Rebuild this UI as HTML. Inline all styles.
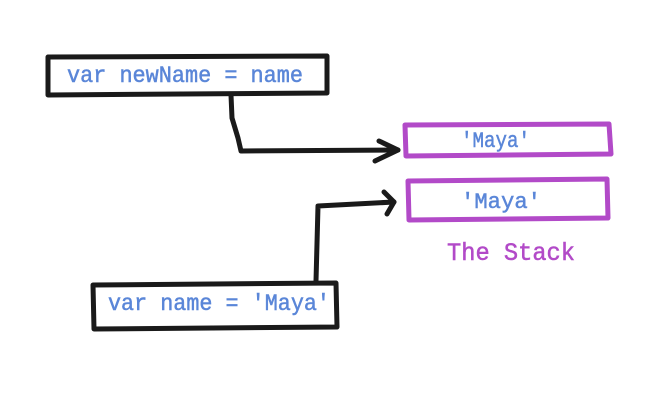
<!DOCTYPE html>
<html><head><style>
html,body{margin:0;padding:0;background:#fff;}
svg{display:block;}
.c{font-family:"Liberation Mono","DejaVu Sans Mono",monospace;stroke-width:0.5;}
</style></head><body>
<svg width="656" height="403" viewBox="0 0 656 403">
<g fill="none" stroke="#1a1a1a" stroke-width="5" stroke-linejoin="round" stroke-linecap="round">
<path d="M48,57 L327,56 L327,93 L48,95 Z"/>
<path d="M93,285 L336,283 L337,327 L94,329 Z"/>
<path d="M231,95 L232,118 L238,138 L241,151 L398,150"/>
<path d="M379,141 L398,150 L375,161"/>
<path d="M316,281 L318,206 L394,202"/>
<path d="M384,192 L394,202 L387,214"/>
</g>
<g fill="none" stroke="#b24ac8" stroke-width="5" stroke-linejoin="round">
<path d="M405,125 L609,124 L611,154 L406,156 Z"/>
<path d="M408,181 L607,179 L608,218 L409,220 Z"/>
</g>
<g class="c" fill="#5a86d8" stroke="#5a86d8">
<text x="67" y="82" font-size="23.5" textLength="236" lengthAdjust="spacingAndGlyphs">var newName = name</text>
<text x="108" y="310" font-size="23.5" textLength="222" lengthAdjust="spacingAndGlyphs">var name = 'Maya'</text>
<text x="461" y="147" font-size="22.5" textLength="69" lengthAdjust="spacingAndGlyphs">'Maya'</text>
<text x="461" y="208" font-size="22.5" textLength="80" lengthAdjust="spacingAndGlyphs">'Maya'</text>
</g>
<text class="c" x="447" y="260" fill="#b24ac8" stroke="#b24ac8" font-size="25" textLength="128" lengthAdjust="spacingAndGlyphs">The Stack</text>
</svg>
</body></html>
